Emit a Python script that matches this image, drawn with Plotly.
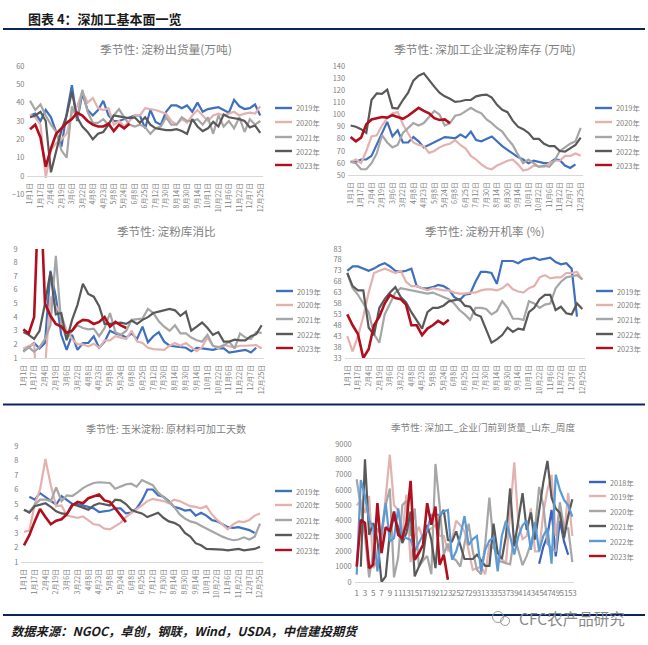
import plotly.graph_objects as go

W, H = 648, 645
DATE_LABELS = ["1月1日","1月17日","2月4日","2月19日","3月6日","3月22日","4月8日","4月23日","5月8日","5月24日","6月8日","6月25日",
               "7月12日","7月30日","8月14日","8月30日","9月14日","10月1日","10月22日","11月6日","11月22日","12月7日","12月25日"]
WEEK_LABELS = list(range(1, 54, 2))
YEARS5 = ["2019年","2020年","2021年","2022年","2023年"]
YEARS6 = ["2018年","2019年","2020年","2021年","2022年","2023年"]

# 淀粉出货量
c1_2019 = [33,34,30,36,32,24,16,34,49.5,30,45,36,33,36,41,33,30,30,31,32,33,33,26,36,29.5,28,35,38.5,38.5,37,38.5,35,40,35,36.5,37,37.5,36,34.5,41.5,38,36.5,37,39,33]
c1_2020 = [33.5,32,28,-1,14,18,20,23,34,38,46,40,42.5,37,36,37,28,30,27,30,33,33,37,36.5,36,35,34,30,28,31,29,33,36,33,30,33,34,33,34,35,33,34,34.5,34,38]
c1_2021 = [41,36,39,33,28,24,14,10,38,31,47,35,29,29,31,28,33,36.5,32,28,27,28,26.5,23,26,27,32,28,28,32,30,30,31,28,32,23,33,27,30,26,32,24,31,28,30]
c1_2022 = [32,33,35,30,2,13,25,33,46,32,27,24,20,23,24,28,33,32.5,32,31.5,32,29,32,28,26,25.5,25,25,25.5,24.5,23,31,27,24.5,26,29.5,27,33.5,32,31.5,31,30,26.5,27.5,23.5]
c1_2023 = [25.5,28,21,5,15,23,26,29,31,34.5,33,30,28,27,27,28.5,24.5,28,26,28.5]

# 深加工企业淀粉库存
c2_2019 = [61,61,63,63,66,75,85,94,82,87,77,77,81.5,78,73,75,77,79,81.5,81,80.5,83.5,81,86,79,78,80,82,78,74,71,68,65,63,60,62,61,60,60,63,62.5,58,56,59]
c2_2020 = [61,63,60,70,82,83,91,97,101,102,92,84,77,75,74,68.5,70,73,75,76,79,75,72,66,63,59,56,55,58,60,62,63,59,54,55,58,57.5,57,60,62,62,66,66,68,66]
c2_2021 = [61,60,55,55,60,68,83,77,73,75,85,89,93,91,93,98,103,100,91,93,99,100,103,105.5,103,101,96,93,89,86,80,75,67,60,63,60,57,58,57,62,70,73,76,78,89]
c2_2022 = [91,90,88,85,112,117.5,117,120.5,105.5,105,112,118,128,132,134,128,123,118,115,113,110.5,111,112,112,115,116,116.5,114,108,104,102,95,90,88,85,80,80,76,74,74,70,69.5,72,75,81]
c2_2023 = [81.5,78,81,92,96,97,98,97.5,99.5,98,96.5,99,102,105.5,103,101,97,95.5,96,93]

# 淀粉库消比
c3_2019 = [1.5,1.8,2.1,1.7,2.1,7.4,5.5,2.7,1.6,2.7,1.6,2.1,2.1,2.6,1.75,2.2,3,2.8,2.7,2.5,2.8,2.4,3.3,2.15,2.6,2.9,2.2,1.9,1.85,1.85,1.75,1.5,1.75,1.7,1.65,1.6,1.7,1.7,1.4,1.45,1.5,1.6,1.4,1.75]
c3_2020 = [1.7,1.9,2.05,-5,0.5,5.5,4.8,4.2,3,2.4,2,2,1.85,2.05,1.75,2.3,2.3,2.6,2.5,2.4,3,2.2,2.1,1.75,1.65,1.6,1.6,1.9,2.1,1.9,2.1,1.8,1.5,1.8,2.5,1.9,1.7,2,1.85,1.8,1.9,1.9,1.95,1.95,1.7]
c3_2021 = [1.45,1.8,1.45,1.8,2.4,3.4,8.5,3.5,2.4,3,3.4,3.2,3.1,3.15,2.6,3.2,4.3,2.9,2.7,3,3.8,3.85,3.9,4.6,4.3,3.7,3.3,3,3.4,2.8,2.8,2.5,2.3,2.2,2.7,1.9,1.8,1.9,2.2,1.7,2.8,2.5,2.4,2.9,2.85]
c3_2022 = [2.9,2.7,2.4,3,5,7.3,4.2,4.3,2.3,3.8,4.9,6.45,5.7,5.5,4.8,3.5,3.5,3.55,3.6,3.5,3.75,3.5,3.8,4,4.3,4.4,4.5,4.6,4.5,4.1,4.4,3,3.3,3.6,3.2,2.7,2.9,2.2,2.2,2.35,2.3,2.3,2.6,2.75,3.4]
c3_2023 = [3.1,2.8,4,15,5,4.1,3.5,3.3,2.85,3,3.55,3.8,3.75,3.5,3.65,4,3.3,3.65,3.4,3.2]

# 淀粉开机率
c4_2019 = [73,75,75,74,73,74,75.5,76.5,75,73,72.5,73,74,66,65,65,65.5,66.5,66,64.5,61,59.5,62,62.5,68,72.5,72.5,72,67,77.5,77.5,77.5,76.5,78,78.5,79,78,78.5,79,77,76,76.5,74,52]
c4_2020 = [43,36,43,52,63,72,73,74,73,72,73,68,66,66,65,64,65,64.5,64,64,63,62.5,62.5,63,63,64,64.5,64.5,64,65,67,64.5,63.5,63,65,66,70,71,69.5,70,70,72,72,72.5,69]
c4_2021 = [72,65,62,58,54,44,40,53,58,63,65,64.5,64,63.5,63,62.5,63,62,61,60,58,55,53,50.5,56,56,55.5,53,54.5,59,56,51,51,50.5,59,58,56,57.5,58,65,68,70,70.5,71,69]
c4_2022 = [72,66,64,64,47,43.5,56,60,63,65.5,61,58.5,54,50,46.5,54,56,56,57,59,59.5,60,57,56.5,53,52,46,40,41.5,43.5,47,45,46.5,46,54,56,60,62,62,55,56.5,53.5,53,58,55.5]
c4_2023 = [53,48,44,33,37,48,52,58,62,60.5,60,57.5,48,48,43.5,46.5,48,50,48.5,50.5]

# 玉米淀粉 原材料可加工天数
c5_2019 = [None,5.5,5.3,5.75,5.5,5.2,4.95,5.55,5.3,5,5,4.9,4.8,4.7,4.45,4.5,4.55,4.7,4.7,4.35,4.4,4.7,5.25,6,6,5.6,5.5,5.2,4.8,4.7,4.55,4.6,4.2,4.4,4.2,3.9,3.8,3.6,3.4,3.35,3.4,3.3,3.2,3]
c5_2020 = [3.1,3.15,5,6,8.1,6.3,4.85,4.9,4.2,4.1,4.05,4.15,3.85,3.6,3.55,3.3,3.25,3.45,3.7,4.1,4.4,4.65,4.9,5.2,5.35,5.3,5.2,5.05,5.3,5.2,5.05,4.85,4.8,4.7,4.85,4.3,3.9,3.6,3.25,3.6,3.8,3.75,3.9,4.2,4.35]
c5_2021 = [4.6,4.45,4.95,5.3,5.3,5.2,6.15,5.2,5.6,5.55,5.8,6.1,6.3,6.45,6.5,6.5,6.45,6.05,6.2,6.35,6.4,6.2,6.65,6.5,6.3,5.8,5.45,5.1,4.8,4.3,4,3.8,3.7,3.5,3.3,3.1,2.9,2.75,2.6,2.5,2.55,2.7,2.55,2.75,3.65]
c5_2022 = [4.6,4.4,4.85,4.95,5.05,4.8,4.5,4.35,4.3,5,4.9,4.75,4.6,4.9,5.05,5,4.9,5.3,5.25,5,4.6,4.45,4.35,4.1,4.25,4.4,4.05,3.8,3.7,3.5,3,2.75,2.3,2.15,1.9,1.9,1.9,1.85,1.8,1.85,1.9,1.8,1.85,1.9,2.05]
c5_2023 = [2.15,2.85,3.8,4.65,4.1,3.6,3.85,3.95,4.3,4.9,5.15,5.05,5.4,5.5,5.65,5.25,5.15,4.7,4.2,3.75]

# 企业门前到货量 山东 周度
c6_2018 = [None]*44 + [1190,2300,3000,4700,1670,4000,2650,1780]
c6_2019 = [5000,5300,4500,5600,900,1400,2800,5500,8300,5000,4700,3000,5700,1300,3000,3600,2800,3300,3500,3700,3000,3000,2000,2800,4000,3700,3300,2000,800,900,1000,500,2400,2200,2000,1500,1200,4500,7800,3800,2800,3000,4800,2000,2000,4500,6000,7000,3000,5000,3000,5800,3000]
c6_2020 = [6700,5000,3000,300,2000,3500,3000,5000,6100,300,1600,5000,5300,3000,4800,1000,1400,1700,500,7700,5000,1800,2500,1600,1400,1000,2500,3800,2000,800,500,2500,5500,2500,1400,1300,1200,1150,3000,2000,1100,1700,2500,3500,6200,5000,2500,2200,2000,5200,3500,3500,1300]
c6_2021 = [None,1000,8000,3080,3840,2750,0,370,3200,4270,3600,2540,3200,4600,370,1000,1670,3730,2750,900,4270,4700,2750,2650,3300,2400,1500,1500,1500,1780,1400,1050,1050,3800,1900,1500,3000,6100,2330,4000,5800,3400,4530,2770,4500,6500,7900,5500,4800,4500,2870,4300,5400]
c6_2022 = [480,6650,5600,4050,3500,700,3300,5140,2650,2860,4800,2970,2860,2750,2000,2500,3080,3400,4380,4380,4380,4600,4700,1450,2000,3000,4300,2400,2800,3000,700,2100,2700,2900,700,3000,4000,3000,1800,3000,3700,4000,2100,3900,2000,3000,3500,1200,7000,6000,5350,5000,4270]
c6_2023 = [1000,4050,3850,900,1130,5140,1890,3580,3300,4600,3080,2860,3840,6600,1450,1890,2430,5140,3730,4920,1130,1780,150]

BLUE, PINK, GRAY, DARK, RED = "#3f6fbf", "#e3b1ae", "#a6a6a6", "#595959", "#b00f1e"
SKY = "#5b9bd5"
NAVY = "#0b2460"
FONT = "Noto Sans CJK SC"
TICK = "#808080"

charts = [
    dict(title="季节性: 淀粉出货量(万吨)", tsize=11.8, tx=166, ty=48, box=(27.4, 262.9, 66, 194.3), yr=(-10, 60), dt=10, axis=176,
         names=YEARS5, colors=[BLUE, PINK, GRAY, DARK, RED], series=[c1_2019, c1_2020, c1_2021, c1_2022, c1_2023],
         leg=(275, [108, 122, 137, 151, 165])),
    dict(title="季节性: 深加工企业淀粉库存 (万吨)", tsize=11.8, tx=485, ty=48, box=(348, 583.3, 66, 175.3), yr=(50, 140), dt=10, axis=None,
         names=YEARS5, colors=[BLUE, PINK, GRAY, DARK, RED], series=[c2_2019, c2_2020, c2_2021, c2_2022, c2_2023],
         leg=(595, [108, 122, 137, 151, 165])),
    dict(title="季节性: 淀粉库消比", tsize=11.6, tx=166, ty=231, box=(20.6, 264.4, 249, 358), yr=(1, 9), dt=1, axis=None,
         names=YEARS5, colors=[BLUE, PINK, GRAY, DARK, RED], series=[c3_2019, c3_2020, c3_2021, c3_2022, c3_2023],
         leg=(276, [291, 305, 319, 334, 348])),
    dict(title="季节性: 淀粉开机率 (%)", tsize=11.6, tx=485, ty=231, box=(344.6, 585, 249, 358), yr=(33, 83), dt=5, axis=None,
         names=YEARS5, colors=[BLUE, PINK, GRAY, DARK, RED], series=[c4_2019, c4_2020, c4_2021, c4_2022, c4_2023],
         leg=(596, [291, 305, 319, 334, 348])),
    dict(title="季节性: 玉米淀粉: 原材料可加工天数", tsize=10, tx=166, ty=428, box=(21.3, 262.7, 446, 562), yr=(1, 9), dt=1, axis=None,
         names=YEARS5, colors=[BLUE, PINK, GRAY, DARK, RED], series=[c5_2019, c5_2020, c5_2021, c5_2022, c5_2023],
         leg=(275, [491, 505, 520, 535, 550])),
    dict(title="季节性: 深加工_企业门前到货量_山东_周度", tsize=9.6, tx=483, ty=427, box=(354.6, 574.4, 444, 582), yr=(0, 9000), dt=1000, axis=None,
         names=YEARS6, colors=["#3a60c0", PINK, GRAY, DARK, SKY, RED], series=[c6_2018, c6_2019, c6_2020, c6_2021, c6_2022, c6_2023],
         leg=(589, [482, 496, 511, 526, 541, 556]), weekly=True),
]

fig = go.Figure()
shapes, annos = [], []


def label(text, x, y, size, color, anchor="center", **kw):
    annos.append(dict(text=text, x=x / W, y=1 - y / H, xref="paper", yref="paper", xanchor=anchor, yanchor="middle",
                      showarrow=False, font=dict(family=FONT, size=size, color=color), **kw))


def rule(x0, x1, y, color=NAVY, width=2):
    shapes.append(dict(type="line", xref="paper", yref="paper", x0=x0 / W, x1=x1 / W, y0=1 - y / H, y1=1 - y / H,
                       line=dict(color=color, width=width)))


for n, c in enumerate(charts, start=1):
    sfx = "" if n == 1 else str(n)
    x0, x1, ytop, ybot = c["box"]
    weekly = c.get("weekly", False)
    for name, color, vals in zip(c["names"], c["colors"], c["series"]):
        fig.add_trace(go.Scatter(x=list(range(len(vals))), y=vals, mode="lines", name=name, showlegend=False,
                                 xaxis="x" + sfx, yaxis="y" + sfx, connectgaps=False,
                                 line=dict(color=color, width=2.6 if color == RED else 2.2, shape="linear")))
    if weekly:
        tv = [w - 1 for w in WEEK_LABELS]
        tt = [str(w) for w in WEEK_LABELS]
        rng, angle = [-0.5, 52.5], 0
    else:
        tv = [2 * k for k in range(len(DATE_LABELS))]
        tt = DATE_LABELS
        rng, angle = [-0.5, 44.5], -90
    xa = dict(domain=[x0 / W, x1 / W], range=rng, tickmode="array", tickvals=tv, ticktext=tt, tickangle=angle,
              showgrid=False, zeroline=False, showline=True, linecolor="#d9d9d9", linewidth=1, ticks="",
              automargin=False,
              tickfont=dict(family=FONT, size=8 if weekly else 7, color=TICK), ticklabelstandoff=3)
    if c["axis"] is not None:
        xa.update(anchor="free", position=1 - c["axis"] / H)
    else:
        xa.update(anchor="y" + sfx)
    ya = dict(domain=[1 - ybot / H, 1 - ytop / H], range=list(c["yr"]), dtick=c["dt"], tick0=c["yr"][0], anchor="x" + sfx,
              showgrid=False, zeroline=False, showline=False, ticks="", ticklabelstandoff=2, automargin=False,
              tickfont=dict(family=FONT, size=7.4, color=TICK))
    fig.update_layout(**{"xaxis" + sfx: xa, "yaxis" + sfx: ya})
    label(c["title"], c["tx"], c["ty"], c["tsize"], "#808080")
    lx, lys = c["leg"]
    for name, color, ly in zip(c["names"], c["colors"], lys):
        shapes.append(dict(type="line", xref="paper", yref="paper", x0=lx / W, x1=(lx + 17) / W, y0=1 - ly / H, y1=1 - ly / H,
                           line=dict(color=color, width=2.4)))
        label(name, lx + 19, ly, 7.4, "#808080", anchor="left")

rule(3, 645, 29)
rule(3, 645, 404.5)
rule(3, 645, 615)
label("<b>图表 4：深加工基本面一览</b>", 26, 18, 13, "#1a1a1a", anchor="left")
label("<b><i>数据来源：NGOC，卓创，钢联，Wind，USDA，中信建投期货</i></b>", 9, 631, 12.3, "#1a1a1a", anchor="left")
label("CFC农产品研究", 517, 618, 15.5, "#8a8a8a", anchor="left")
for cx, cy, r in [(498, 617, 5.5), (505, 621, 4.5)]:
    shapes.append(dict(type="circle", xref="paper", yref="paper", x0=(cx - r) / W, x1=(cx + r) / W,
                       y0=1 - (cy + r) / H, y1=1 - (cy - r) / H, line=dict(color="#9a9a9a", width=1)))

fig.update_layout(width=W, height=H, autosize=False, margin=dict(l=0, r=0, t=0, b=0, pad=0, autoexpand=False),
                  paper_bgcolor="white", plot_bgcolor="white", showlegend=False, shapes=shapes, annotations=annos,
                  font=dict(family=FONT))
fig.write_html("out.html", config=dict(displayModeBar=False),
               post_script="document.body.style.margin='0';document.documentElement.style.overflow='hidden';")
